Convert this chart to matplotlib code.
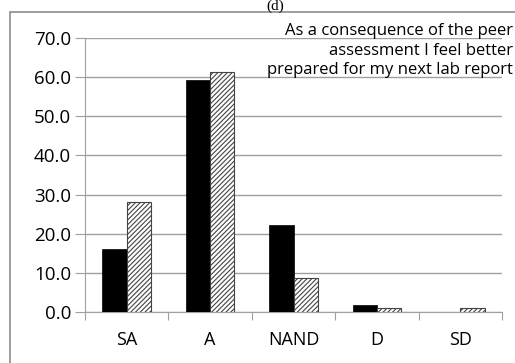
import matplotlib.pyplot as plt
import numpy as np
from matplotlib.patches import Rectangle

plt.rcParams['font.family'] = ['Open Sans', 'DejaVu Sans']
plt.rcParams['hatch.linewidth'] = 0.8

categories = ['SA', 'A', 'NAND', 'D', 'SD']
series1 = [16.1, 59.2, 22.3, 1.7, 0.0]
series2 = [28.2, 61.3, 8.8, 1.0, 1.0]
yticks = [0, 10, 20, 30, 40, 50, 60, 70]

fig = plt.figure(figsize=(5.15, 3.63), dpi=100)
ax = fig.add_axes([0.165, 0.1405, 0.81, 0.7545])

# outer chart frame (cropped on right/bottom)
fig.patches.append(Rectangle((10/515, -0.1), 1.2, 1 - 12/363 + 0.1, transform=fig.transFigure,
                             fill=False, edgecolor='#8c8c8c', linewidth=1.2))

ind = np.arange(len(categories))
width = 0.29
ax.bar(ind - width/2, series1, width, color='black', edgecolor='black', linewidth=0.5, zorder=3)
ax.bar(ind + width/2, series2, width, color='white', edgecolor='#444444', hatch='///////',
       linewidth=0.8, zorder=3)

ax.set_xlim(-0.5, 4.5)
ax.set_ylim(0, 70)
ax.set_yticks(yticks)
ax.set_yticklabels(['%.1f' % v for v in yticks], fontsize=13.5)
ax.set_xticks(np.arange(-0.5, 5, 1))
ax.set_xticklabels([])
ax.set_xticks(ind, minor=True)
ax.set_xticklabels(categories, minor=True, fontsize=13)
ax.tick_params(axis='x', which='minor', length=0, pad=14)
ax.tick_params(axis='x', which='major', length=6, color='#a0a0a0')
ax.tick_params(axis='y', length=7, color='#a0a0a0', pad=3)
ax.yaxis.grid(True, color='#a0a0a0', linewidth=1, zorder=0)
ax.set_axisbelow(True)
for s in ['top', 'right']:
    ax.spines[s].set_visible(False)
ax.spines['left'].set_color('#a0a0a0')
ax.spines['bottom'].set_color('#a0a0a0')

fig.text(275/515, 1.0, '(d)', ha='center', va='top', fontsize=11, family='Liberation Serif')
fig.text(513/515, 1 - 23/363, 'As a consequence of the peer\nassessment I feel better\nprepared for my next lab report',
         ha='right', va='top', fontsize=12, linespacing=1.3, multialignment='right')

fig.savefig('out.png', dpi=100)
